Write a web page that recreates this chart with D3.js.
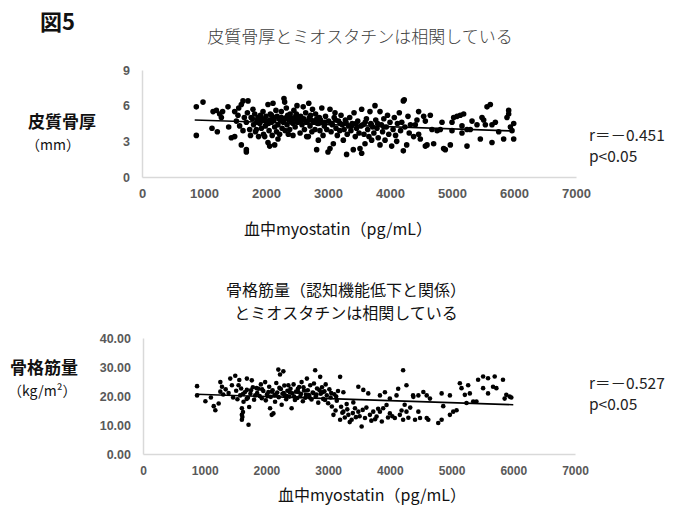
<!DOCTYPE html>
<html>
<head>
<meta charset="utf-8">
<script src="https://cdn.jsdelivr.net/npm/d3@7"></script>
<style>
  html, body { margin: 0; padding: 0; background: #fff; }
  svg { display: block; }
</style>
</head>
<body>
<svg id="chart" width="679" height="506"></svg>
<script>
// ---------- DATA ----------
const figLabel = "図5";
const topTitle = "皮質骨厚とミオスタチンは相関している";
const bottomTitle = ["骨格筋量（認知機能低下と関係）", "とミオスタチンは相関している"];
const xTitle = "血中myostatin（pg/mL）";
const topYLabel = ["皮質骨厚", "（mm）"];
const bottomYLabel = ["骨格筋量", "（kg/m²）"];
const topStats = ["r＝－0.451", "p<0.05"];
const bottomStats = ["r＝－0.527", "p<0.05"];

const xTicks = [0, 1000, 2000, 3000, 4000, 5000, 6000, 7000];
const topYTicks = [0, 3, 6, 9];
const bottomYTicks = [0, 10, 20, 30, 40];

// trend line endpoints [x, y]
const topTrend = [[850, 4.8], [6000, 3.87]];
const bottomTrend = [[870, 20.6], [6000, 17.0]];

// cortical bone thickness (mm) vs myostatin
const topPoints = [
[876,5.9],[876,3.5],[984,6.3],[1129,4.1],[1146,5.5],[1200,5.6],[1215,3.8],[1253,5.3],[1280,5.0],[1300,5.5],
[1387,5.9],[1398,4.2],[1441,3.3],[1495,3.4],[1495,5.5],[1522,4.7],[1548,5.2],[1560,5.8],[1575,4.3],[1602,6.1],
[1602,2.7],[1629,6.4],[1629,3.9],[1650,5.0],[1683,2.3],[1683,2.1],[1683,4.6],[1700,5.4],[1710,6.4],[1737,4.0],
[1750,3.5],[1760,5.0],[1790,5.7],[1800,4.4],[1818,5.3],[1830,3.8],[1844,4.0],[1860,4.8],[1871,5.0],[1880,3.4],
[1898,4.5],[1910,5.2],[1925,4.1],[1952,5.5],[1960,3.6],[1979,4.8],[1979,3.4],[1990,4.3],[2000,5.1],[2032,6.1],
[2032,2.9],[2040,4.5],[2050,3.9],[2059,2.6],[2070,5.3],[2086,4.6],[2100,3.5],[2113,6.2],[2120,5.0],[2140,2.7],
[2140,4.2],[2160,5.6],[2170,3.8],[2193,3.2],[2193,4.4],[2210,4.9],[2220,3.6],[2247,5.5],[2260,4.1],[2274,4.7],
[2290,6.6],[2301,6.3],[2310,3.9],[2328,5.0],[2328,5.8],[2340,4.4],[2360,3.6],[2382,4.0],[2390,5.3],[2410,4.7],
[2435,4.5],[2435,3.5],[2450,5.6],[2470,4.2],[2489,5.3],[2500,6.0],[2520,4.8],[2543,7.6],[2550,3.7],[2560,5.1],
[2580,4.4],[2600,5.9],[2620,4.0],[2640,5.4],[2656,3.4],[2670,4.7],[2683,3.4],[2690,6.2],[2710,4.3],[2720,5.2],
[2740,3.8],[2750,5.7],[2770,4.6],[2790,4.0],[2800,5.3],[2817,2.3],[2830,4.5],[2844,3.1],[2860,5.0],[2870,3.9],
[2890,4.6],[2900,5.8],[2920,3.5],[2940,4.3],[2960,5.1],[2980,4.0],[3000,2.1],[3010,4.7],[3032,5.7],[3032,2.4],
[3050,3.8],[3070,4.4],[3086,2.8],[3100,5.0],[3113,5.4],[3130,4.1],[3150,3.5],[3170,4.7],[3190,3.9],[3210,5.2],
[3230,4.4],[3247,3.1],[3260,4.0],[3280,4.8],[3300,1.9],[3310,3.6],[3330,4.3],[3350,5.0],[3370,3.9],[3390,4.5],
[3408,2.3],[3420,5.4],[3440,3.4],[3460,4.1],[3480,4.7],[3500,3.7],[3516,2.4],[3543,5.7],[3543,2.0],[3560,4.4],
[3580,3.6],[3597,2.8],[3620,4.9],[3640,4.0],[3660,3.4],[3677,5.5],[3690,4.5],[3704,3.1],[3720,4.2],[3740,3.7],
[3758,6.0],[3770,4.8],[3790,4.1],[3810,3.3],[3839,5.5],[3839,2.7],[3860,4.4],[3880,3.8],[3900,4.9],[3920,3.1],
[3940,4.2],[3960,5.2],[3980,3.6],[4000,4.6],[4027,2.6],[4050,4.0],[4070,5.0],[4090,3.5],[4108,3.0],[4120,4.5],
[4150,5.4],[4170,3.9],[4190,4.6],[4215,6.4],[4230,6.5],[4215,2.2],[4240,4.2],[4269,2.7],[4290,5.1],[4310,3.7],
[4330,4.4],[4381,3.4],[4408,4.4],[4435,4.8],[4462,5.5],[4462,3.6],[4489,3.2],[4543,5.1],[4570,4.7],[4570,2.6],
[4597,2.7],[4650,5.2],[4677,4.0],[4704,2.8],[4760,3.9],[4812,4.0],[4839,4.6],[4865,2.4],[4892,2.3],[4973,2.7],
[5000,3.9],[5000,4.6],[5027,5.0],[5081,5.1],[5134,5.2],[5161,4.3],[5161,3.7],[5188,5.3],[5242,4.0],[5242,2.6],
[5296,4.0],[5323,4.7],[5403,4.4],[5457,3.2],[5484,5.0],[5511,4.8],[5538,4.4],[5565,5.9],[5618,6.1],[5645,4.4],
[5645,2.9],[5699,4.6],[5753,3.8],[5833,3.2],[5887,5.0],[5914,5.3],[5914,5.6],[5941,4.2],[5968,3.9],[5995,4.5],[5995,3.2],
[1780,4.9],[1850,4.6],[1920,4.7],[1940,4.9],[2010,4.6],[2060,4.8],[2090,5.2],[2130,4.8],[2180,5.1],[2230,4.8],
[2250,5.0],[2280,4.6],[2320,4.9],[2350,5.2],[2370,4.8],[2400,5.0],[2420,4.6],[2460,4.9],[2480,5.1],[2510,4.6],
[2530,5.0],[2570,4.7],[2610,4.9],[2650,4.6],[2700,5.0],[2730,4.8],[2780,4.7],[2820,4.9],[2850,4.5],[2880,4.8],
[2950,4.6],[3060,4.5],[3120,4.8],[3200,4.5],[3290,4.6],[3380,4.3],[3450,4.5],[3530,4.3],[3600,4.6],[3700,4.4],
[3800,4.5],[3900,4.2]
];

// skeletal muscle mass (kg/m2) vs myostatin
const bottomPoints = [
[876,23.4],[876,20.2],[1011,18.2],[1100,19.5],[1146,16.5],[1172,15.1],[1226,17.4],[1253,24.8],[1253,21.5],[1280,23.2],
[1300,20.5],[1340,22.3],[1387,21.0],[1414,26.0],[1441,23.7],[1460,19.5],[1495,27.0],[1510,21.8],[1530,18.9],[1548,23.7],
[1560,25.5],[1575,20.2],[1590,22.6],[1602,15.8],[1602,13.5],[1602,11.8],[1610,12.8],[1620,14.5],[1629,18.0],[1650,21.3],
[1683,26.0],[1683,22.1],[1700,19.4],[1710,10.1],[1720,16.2],[1740,20.8],[1763,25.4],[1780,23.0],[1800,18.7],[1818,20.2],
[1840,22.7],[1871,22.5],[1890,20.0],[1910,24.0],[1925,19.2],[1950,21.7],[1979,24.8],[1990,18.5],[2010,20.6],[2032,21.4],
[2045,23.2],[2059,15.8],[2070,19.7],[2086,13.5],[2100,22.0],[2113,14.0],[2130,20.3],[2140,18.0],[2160,24.5],[2175,21.2],
[2193,29.1],[2200,19.6],[2220,27.4],[2235,22.4],[2247,17.0],[2260,20.8],[2274,28.5],[2290,23.6],[2301,20.2],[2320,18.9],
[2340,21.8],[2355,23.7],[2370,19.8],[2390,22.5],[2408,15.8],[2420,20.9],[2440,24.0],[2462,18.6],[2480,21.5],[2500,19.3],
[2516,21.4],[2530,23.1],[2550,20.0],[2570,24.8],[2590,18.2],[2610,21.9],[2630,19.4],[2656,26.0],[2670,22.0],[2690,20.3],
[2710,23.7],[2730,18.8],[2750,21.2],[2770,24.3],[2790,28.9],[2800,19.9],[2820,22.6],[2840,17.7],[2871,26.6],[2880,20.8],
[2900,23.0],[2920,19.0],[2940,21.6],[2960,24.0],[2978,20.2],[3000,17.5],[3020,22.3],[3040,19.5],[3060,16.4],[3086,13.5],
[3100,20.6],[3120,15.0],[3140,18.4],[3160,21.7],[3194,26.6],[3194,11.8],[3210,16.3],[3230,14.2],[3247,14.6],[3247,21.3],
[3270,12.6],[3300,17.2],[3310,15.4],[3328,13.5],[3350,11.0],[3381,11.8],[3400,14.1],[3408,17.8],[3435,15.8],[3450,12.7],
[3489,14.6],[3489,23.2],[3510,13.0],[3543,9.5],[3560,15.2],[3570,22.1],[3597,12.4],[3620,16.0],[3650,20.9],[3677,13.5],
[3700,11.5],[3731,14.6],[3760,12.0],[3785,12.9],[3810,15.6],[3839,14.6],[3839,20.2],[3870,11.2],[3892,15.8],[3920,21.3],
[3946,16.9],[3970,12.6],[4000,14.0],[4000,19.1],[4040,13.0],[4081,12.4],[4108,20.2],[4135,22.5],[4162,13.5],[4190,15.0],
[4215,11.8],[4215,28.9],[4240,17.0],[4269,14.6],[4269,23.7],[4300,12.5],[4330,16.0],[4376,20.2],[4381,19.7],[4408,11.8],
[4462,20.2],[4462,14.6],[4489,12.4],[4543,21.4],[4597,20.2],[4597,12.4],[4623,11.8],[4650,19.1],[4784,10.7],[4839,20.9],
[4839,11.8],[4865,16.5],[4973,20.2],[4973,13.5],[5027,14.6],[5081,15.1],[5134,24.4],[5161,22.7],[5215,20.4],[5242,17.6],
[5269,23.7],[5296,20.9],[5350,18.1],[5403,18.1],[5430,25.6],[5511,26.7],[5511,22.7],[5591,26.1],[5591,20.9],[5672,23.2],
[5699,26.7],[5726,22.7],[5833,25.6],[5860,19.1],[5887,20.4],[5941,19.8],[5968,19.5],
[1850,21.0],[1930,22.3],[2020,19.9],[2090,21.5],[2150,20.5],[2210,22.8],[2280,21.0],[2330,20.0],[2380,21.3],[2450,19.8],
[2510,22.5],[2560,20.8],[2600,23.0],[2640,20.5],[2700,19.5],[2760,21.0],[2810,20.5],[2860,22.0],[2910,21.3],[2950,18.6],
[3050,21.0],[3130,19.8],[1680,19.0],[1750,22.0],[1620,20.7]
];

// ---------- DRAWING ----------
const svg = d3.select("#chart");
svg.append("rect").attr("width", 679).attr("height", 506).attr("fill", "#fff");

const jp = "'Noto Sans CJK JP', 'Noto Sans', sans-serif";
const num = "'Liberation Sans', Arial, sans-serif";
const tickColor = "#595959";
const axisColor = "#d9d9d9";

svg.append("text").attr("x", 40).attr("y", 30)
  .attr("font-family", jp).attr("font-size", 22).attr("font-weight", 700)
  .attr("fill", "#111").text(figLabel);

function panel(cfg) {
  const x = d3.scaleLinear().domain([0, 7000]).range([cfg.left, cfg.right]);
  const y = d3.scaleLinear().domain([0, cfg.yMax]).range([cfg.bottom, cfg.top]);

  const xAxis = d3.axisBottom(x).tickValues(xTicks).tickSize(0).tickPadding(cfg.xPad)
    .tickFormat(d3.format("d"));
  const gx = svg.append("g").attr("transform", `translate(0,${cfg.bottom})`).call(xAxis);
  gx.select(".domain").attr("stroke", axisColor).attr("stroke-width", 1.5);
  gx.selectAll("text").attr("font-family", num).attr("font-size", cfg.xFont)
    .attr("font-weight", 700).attr("fill", tickColor);

  const yAxis = d3.axisLeft(y).tickValues(cfg.yTicks).tickSize(0).tickPadding(12)
    .tickFormat(cfg.yFmt);
  const gy = svg.append("g").attr("transform", `translate(${cfg.left},0)`).call(yAxis);
  gy.select(".domain").attr("stroke", axisColor).attr("stroke-width", 1.5);
  gy.selectAll("text").attr("font-family", num).attr("font-size", cfg.yFont)
    .attr("font-weight", 700).attr("fill", tickColor);

  svg.append("g").selectAll("circle").data(cfg.points).join("circle")
    .attr("cx", d => x(d[0])).attr("cy", d => y(d[1]))
    .attr("r", cfg.r).attr("fill", "#000");

  svg.append("path").datum(cfg.trend)
    .attr("d", d3.line().x(d => x(d[0])).y(d => y(d[1])))
    .attr("stroke", "#000").attr("stroke-width", 1.6).attr("fill", "none");

  svg.append("text").attr("x", cfg.xTitleX).attr("y", cfg.xTitleY)
    .attr("text-anchor", "middle").attr("font-family", jp).attr("font-size", 16)
    .attr("fill", "#111").text(xTitle);

  svg.append("text").attr("x", cfg.yLabelX).attr("y", cfg.yLabelY)
    .attr("font-family", jp).attr("font-size", 17).attr("font-weight", 700)
    .attr("fill", "#111").text(cfg.yLabel[0]);
  svg.append("text").attr("x", cfg.yLabelX - 2).attr("y", cfg.yLabelY + 22)
    .attr("font-family", jp).attr("font-size", 14)
    .attr("fill", "#111").text(cfg.yLabel[1]);

  cfg.stats.forEach((s, i) => {
    svg.append("text").attr("x", 589).attr("y", cfg.statsY + i * 21)
      .attr("font-family", jp).attr("font-size", 15.5).attr("fill", "#222").text(s);
  });
}

svg.append("text").attr("x", 360).attr("y", 43).attr("text-anchor", "middle")
  .attr("font-family", jp).attr("font-size", 17).attr("font-weight", 300)
  .attr("fill", "#404040").text(topTitle);

bottomTitle.forEach((t, i) => {
  svg.append("text").attr("x", 346).attr("y", 296 + i * 23).attr("text-anchor", "middle")
    .attr("font-family", jp).attr("font-size", 16).attr("fill", "#111").text(t);
});

panel({
  left: 142, right: 576, top: 70, bottom: 177, yMax: 9,
  yTicks: topYTicks, yFmt: d3.format("d"), xFont: 13, yFont: 12.5, xPad: 12,
  points: topPoints, r: 2.8, trend: topTrend,
  xTitleX: 338, xTitleY: 235, yLabel: topYLabel, yLabelX: 28, yLabelY: 128,
  stats: topStats, statsY: 141
});

panel({
  left: 143, right: 575, top: 338, bottom: 454, yMax: 40,
  yTicks: bottomYTicks, yFmt: d3.format(".2f"), xFont: 12, yFont: 12.5, xPad: 12,
  points: bottomPoints, r: 2.3, trend: bottomTrend,
  xTitleX: 372, xTitleY: 501, yLabel: bottomYLabel, yLabelX: 10, yLabelY: 374,
  stats: bottomStats, statsY: 389
});
</script>
</body>
</html>
